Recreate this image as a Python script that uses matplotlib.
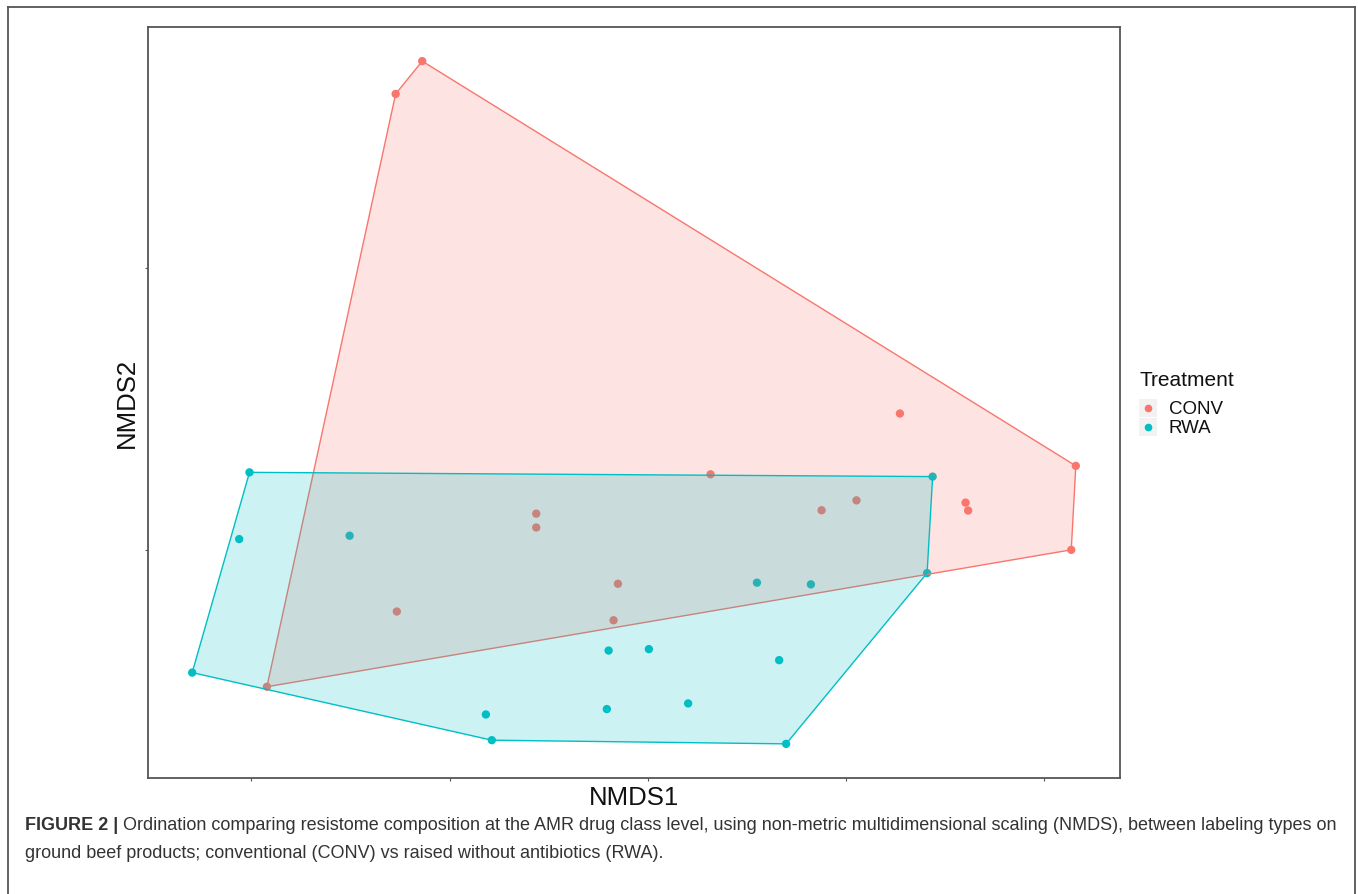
import matplotlib
matplotlib.use("Agg")
import matplotlib.pyplot as plt
from matplotlib.patches import Rectangle, Polygon
from matplotlib.lines import Line2D
import numpy as np

plt.rcParams['font.family'] = ['Liberation Sans', 'DejaVu Sans']

# ---------------- data (NMDS scores) ----------------
groups = ["CONV", "RWA"]
colors = {"CONV": "#F8766D", "RWA": "#00BFC4"}

conv_nmds1 = [-0.1138, -0.1272, 0.1271, 0.2158, 0.0316, 0.1052, 0.1602, 0.1615,
              0.0876, -0.0563, -0.0563, 0.2135, -0.0151, -0.1266, -0.0173, -0.1921]
conv_nmds2 = [0.1730, 0.1614, 0.0484, 0.0299, 0.0269, 0.0177, 0.0169, 0.0141,
              0.0142, 0.0130, 0.0081, 0.0002, -0.0118, -0.0216, -0.0247, -0.0482]

rwa_nmds1 = [-0.2009, 0.1436, -0.2061, -0.1504, 0.1408, 0.0550, 0.0822, -0.0198,
             0.0005, 0.0662, -0.2298, 0.0203, -0.0207, -0.0817, -0.0787, 0.0697]
rwa_nmds2 = [0.0276, 0.0261, 0.0040, 0.0052, -0.0080, -0.0114, -0.0120, -0.0354,
             -0.0349, -0.0388, -0.0432, -0.0541, -0.0561, -0.0580, -0.0671, -0.0684]

x_ticks = [-0.2, -0.1, 0.0, 0.1, 0.2]
y_ticks = [0.0, 0.1]

caption_bold = "FIGURE 2 | "
caption_line1 = ("Ordination comparing resistome composition at the AMR drug class level, "
                 "using non-metric multidimensional scaling (NMDS), between labeling types on")
caption_line2 = "ground beef products; conventional (CONV) vs raised without antibiotics (RWA)."

data = {"CONV": (conv_nmds1, conv_nmds2), "RWA": (rwa_nmds1, rwa_nmds2)}


def convex_hull(xs, ys):
    pts = sorted(set(zip(xs, ys)))
    def cross(o, a, b):
        return (a[0]-o[0])*(b[1]-o[1]) - (a[1]-o[1])*(b[0]-o[0])
    lower, upper = [], []
    for p in pts:
        while len(lower) >= 2 and cross(lower[-2], lower[-1], p) <= 0:
            lower.pop()
        lower.append(p)
    for p in reversed(pts):
        while len(upper) >= 2 and cross(upper[-2], upper[-1], p) <= 0:
            upper.pop()
        upper.append(p)
    return lower[:-1] + upper[:-1]


W, H = 1358, 895
fig = plt.figure(figsize=(W/100, H/100), dpi=100)

def fx(px):
    return px / W

def fy(py):
    return 1 - py / H

ax = fig.add_axes([fx(148), fy(779), fx(1120) - fx(148), fy(28) - fy(779)])

# points first
for g in groups:
    xs, ys = data[g]
    ax.scatter(xs, ys, s=36, color=colors[g], edgecolors='none', zorder=2)

# hulls over points
for i, g in enumerate(groups):
    xs, ys = data[g]
    hull = convex_hull(xs, ys)
    poly = Polygon(hull, closed=True, facecolor=colors[g], alpha=0.2,
                   edgecolor='none', zorder=3 + i)
    ax.add_patch(poly)
    hx = [p[0] for p in hull] + [hull[0][0]]
    hy = [p[1] for p in hull] + [hull[0][1]]
    ax.plot(hx, hy, color=colors[g], lw=1.0, zorder=3 + i, solid_joinstyle='round')

allx = conv_nmds1 + rwa_nmds1
ally = conv_nmds2 + rwa_nmds2
rx = max(allx) - min(allx)
ry = max(ally) - min(ally)
ax.set_xlim(min(allx) - 0.05 * rx, max(allx) + 0.05 * rx)
ax.set_ylim(min(ally) - 0.05 * ry, max(ally) + 0.05 * ry)

ax.set_xticks(x_ticks)
ax.set_yticks(y_ticks)
ax.set_xticklabels([])
ax.set_yticklabels([])
ax.tick_params(direction='out', length=2.5, width=0.8, color='#555555')
for s in ax.spines.values():
    s.set_color('#555555')
    s.set_linewidth(1.3)

# axis titles
fig.text(fx(634), fy(798), "NMDS1", ha='center', va='center', fontsize=18.5, color='#111111')
fig.text(fx(127), fy(403), "NMDS2", ha='center', va='center', fontsize=18.5,
         rotation=90, color='#111111')

# legend
fig.text(fx(1139), fy(380), "Treatment", ha='left', va='center', fontsize=15, color='#111111')
for k, g in enumerate(groups):
    y0 = 400 + 19 * k
    fig.patches.append(Rectangle((fx(1139), fy(y0 + 18)), fx(18), 18 / H,
                                 transform=fig.transFigure, facecolor='#F2F2F2',
                                 edgecolor='none'))
    fig.lines.append(Line2D([fx(1148)], [fy(y0 + 9)], transform=fig.transFigure,
                            marker='o', markersize=5.5, markeredgewidth=0,
                            color=colors[g]))
    fig.text(fx(1169), fy(y0 + 10), g, ha='left', va='center', fontsize=13.5, color='#111111')

# outer frame (open at bottom)
frame_kw = dict(transform=fig.transFigure, color='#555555', lw=1.3)
fig.lines.append(Line2D([fx(8), fx(8)], [0, fy(8)], **frame_kw))
fig.lines.append(Line2D([fx(8), fx(1355)], [fy(8), fy(8)], **frame_kw))
fig.lines.append(Line2D([fx(1355), fx(1355)], [fy(8), 0], **frame_kw))

# caption
fig.canvas.draw()
renderer = fig.canvas.get_renderer()
cap_fs = 12.5
t1 = fig.text(fx(25), fy(826), caption_bold, ha='left', va='center', fontsize=cap_fs,
              fontweight='bold', color='#333333')
bb = t1.get_window_extent(renderer)
t2 = fig.text(bb.x1 / W, fy(826), caption_line1, ha='left', va='center', fontsize=cap_fs,
              color='#333333')
bb2 = t2.get_window_extent(renderer)
# scale caption to span the measured width (x 25 -> 1338)
scale = (1338 - 25) / (bb2.x1 - bb.x0)
cap_fs2 = cap_fs * scale
t1.set_fontsize(cap_fs2)
bb = t1.get_window_extent(renderer)
t2.set_fontsize(cap_fs2)
t2.set_x(bb.x1 / W)
fig.text(fx(25), fy(854), caption_line2, ha='left', va='center', fontsize=cap_fs2,
         color='#333333')

fig.savefig("out.png", dpi=100)
